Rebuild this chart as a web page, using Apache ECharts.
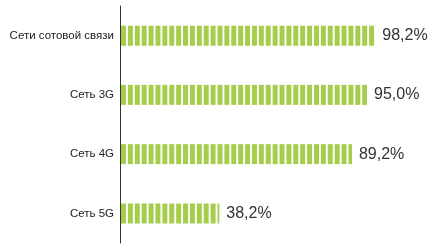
<!DOCTYPE html>
<html lang="ru">
<head>
<meta charset="UTF-8">
<title>Сети</title>
<style>
  html, body { margin: 0; padding: 0; background: #fff; }
  #chart { width: 436px; height: 249px; }
</style>
</head>
<body>
<div id="chart"></div>
<script src="https://cdn.jsdelivr.net/npm/echarts@6/dist/echarts.min.js"></script>
<script>
// categories top to bottom
var categories = ['Сети сотовой связи', 'Сеть 3G', 'Сеть 4G', 'Сеть 5G'];
var values = [98.2, 95.0, 89.2, 38.2];
var axisMax = 100;

var chart = echarts.init(document.getElementById('chart'));
var option = {
    animation: false,
    grid: { left: 120, right: 56, top: 6, bottom: 6, outerBoundsMode: 'none', containLabel: false },
    xAxis: {
        type: 'value',
        min: 0,
        max: axisMax,
        show: false
    },
    yAxis: {
        type: 'category',
        data: categories,
        inverse: true,
        axisLine: { show: true, lineStyle: { color: '#333', width: 1 } },
        axisTick: { show: false },
        axisLabel: {
            color: '#222',
            fontSize: 11.5,
            fontFamily: '"Liberation Sans Narrow", "Liberation Sans", Arial, sans-serif',
            margin: 6
        }
    },
    series: [{
        // striped bars
        type: 'pictorialBar',
        data: values,
        symbol: 'rect',
        symbolSize: [5, 20],
        symbolRepeat: 'fixed',
        symbolMargin: 1,
        symbolClip: true,
        symbolBoundingData: axisMax,
        symbolOffset: [1, 0],
        itemStyle: { color: '#a6ce4c' },
        silent: true,
        z: 3
    }, {
        // invisible bars carrying the value labels
        type: 'bar',
        data: values,
        barWidth: 20,
        itemStyle: { color: 'rgba(0,0,0,0)' },
        silent: true,
        label: {
            show: true,
            position: 'right',
            distance: 7,
            color: '#333',
            fontSize: 16,
            fontFamily: '"Liberation Sans", Arial, sans-serif',
            formatter: function (p) {
                return p.value.toFixed(1).replace('.', ',') + '%';
            }
        }
    }]
};
chart.setOption(option);
</script>
</body>
</html>
